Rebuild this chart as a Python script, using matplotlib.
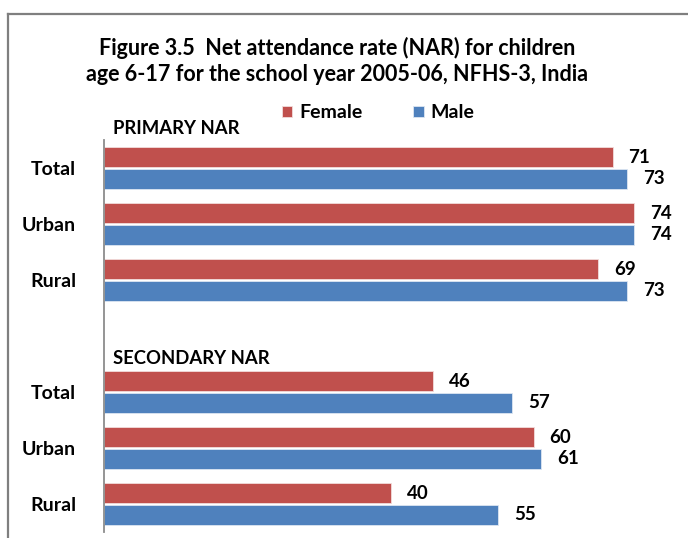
import numpy as np
import matplotlib.pyplot as plt
from matplotlib.lines import Line2D

plt.rcParams['font.family'] = ['Lato', 'DejaVu Sans']

# data
categories = ['Total', 'Urban', 'Rural', '', 'Total', 'Urban', 'Rural']
female = [71, 74, 69, np.nan, 46, 60, 40]
male = [73, 74, 73, np.nan, 57, 61, 55]
section_labels = ['PRIMARY NAR', 'SECONDARY NAR']
series_names = ['Female', 'Male']
title = 'Figure 3.5  Net attendance rate (NAR) for children\nage 6-17 for the school year 2005-06, NFHS-3, India'

RED = '#C0504D'
BLUE = '#4F81BD'
W, H = 688, 538

fig = plt.figure(figsize=(W / 100, H / 100), dpi=100)

def px(x, y):
    return x / W, 1 - y / H

# axes placed in pixel terms
left, top, right, bottom = 104, 140, 677, 532
ax = fig.add_axes([left / W, 1 - bottom / H, (right - left) / W, (bottom - top) / H])

y = np.arange(len(categories))
off = 0.196
h = 0.355
ax.barh(y - off, female, height=h, color=RED, edgecolor='#F2DCDB', linewidth=0.6, label=series_names[0])
ax.barh(y + off, male, height=h, color=BLUE, edgecolor='#DCE6F2', linewidth=0.6, label=series_names[1])

for yi, v in zip(y - off, female):
    if not np.isnan(v):
        ax.annotate(f'{v:.0f}', (v, yi), xytext=(11.5, 0), textcoords='offset points',
                    va='center', ha='left', fontsize=13.5, fontweight='bold')
for yi, v in zip(y + off, male):
    if not np.isnan(v):
        ax.annotate(f'{v:.0f}', (v, yi), xytext=(11.5, 0), textcoords='offset points',
                    va='center', ha='left', fontsize=13.5, fontweight='bold')

ax.set_xlim(0, 80)
ax.set_ylim(len(categories) - 0.5, -0.5)
ax.set_yticks(y)
ax.set_yticklabels(categories, fontsize=14, fontweight='bold')
ax.tick_params(axis='y', length=0, pad=20)
ax.set_xticks([])
for s in ['top', 'right', 'bottom']:
    ax.spines[s].set_visible(False)
ax.spines['left'].set_color('#8C8C8C')
ax.spines['left'].set_linewidth(1.3)

# section labels
fig.text(*px(113, 128), section_labels[0], fontsize=13.3, fontweight='bold', va='center', ha='left')
fig.text(*px(113, 358), section_labels[1], fontsize=13.3, fontweight='bold', va='center', ha='left')

# title
fig.text(*px(337, 61), title, fontsize=15.5, fontweight='bold', ha='center', va='center', linespacing=1.25)

# legend
leg = fig.legend(loc='center', bbox_to_anchor=px(378, 113), ncol=2, frameon=False,
                 prop={'size': 14, 'weight': 'bold'}, handlelength=0.55, handleheight=0.55,
                 handletextpad=0.35, columnspacing=2.6)

# frame around the chart (left and top edges visible)
fig.add_artist(Line2D([8 / W, 8 / W], [0, 1 - 14 / H], transform=fig.transFigure, color='#7F7F7F', lw=1.6))
fig.add_artist(Line2D([8 / W, 1], [1 - 14 / H, 1 - 14 / H], transform=fig.transFigure, color='#7F7F7F', lw=1.6))

fig.savefig('out.png', dpi=100)
